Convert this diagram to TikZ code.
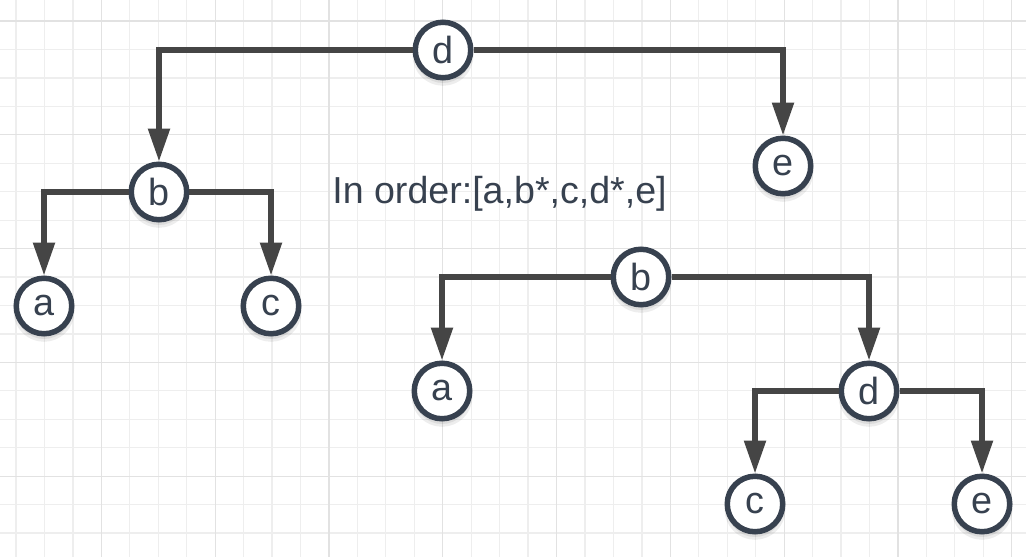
\documentclass[tikz,border=0pt]{standalone}
\usepackage{fontspec}
\setmainfont{Liberation Sans}
\usetikzlibrary{arrows.meta}
\definecolor{edgegray}{RGB}{69, 69, 69}
\definecolor{slate}{RGB}{55, 65, 79}
\definecolor{gridminor}{RGB}{238, 238, 238}
\definecolor{gridmajor}{RGB}{226, 226, 226}

\begin{document}
\begin{tikzpicture}[x=0.02cm, y=-0.02cm,
    vert/.style={circle, draw=slate, line width=0.11cm, fill=white,
                 minimum size=1.11cm, inner sep=0pt, text=slate,
                 font=\fontsize{21.5}{22}\selectfont,
                 preaction={draw=black, line width=0.11cm, fill=black, opacity=0.07,
                            transform canvas={yshift=-3pt}}},
    link/.style={draw=edgegray, line width=0.11cm,
                 -{Triangle[length=0.66cm, width=0.42cm]}}]

    % Background grid
    \useasboundingbox (0,0) rectangle (1026,557);
    \fill[white] (0,0) rectangle (1026,557);
    \foreach \i in {0,...,35}
        \draw[gridminor, line width=0.025cm] ({16+28.45*\i},0) -- ({16+28.45*\i},557);
    \foreach \i in {0,...,18}
        \draw[gridminor, line width=0.025cm] (0,{21+28.45*\i}) -- (1026,{21+28.45*\i});
    \foreach \i in {3,7,...,35}
        \draw[gridmajor, line width=0.025cm] ({16+28.45*\i},0) -- ({16+28.45*\i},557);
    \foreach \i in {0,4,...,16}
        \draw[gridmajor, line width=0.025cm] (0,{21+28.45*\i}) -- (1026,{21+28.45*\i});

    % First tree
    \node[vert] (d1) at (443, 50) {d};
    \node[vert] (b1) at (159, 192) {b};
    \node[vert] (e1) at (783, 166) {e};
    \node[vert] (a1) at (44, 306) {a};
    \node[vert] (c1) at (271, 306) {c};

    % Second tree
    \node[vert] (b2) at (641, 277) {b};
    \node[vert] (a2) at (442, 391) {a};
    \node[vert] (d2) at (869, 391) {d};
    \node[vert] (c2) at (755, 504) {c};
    \node[vert] (e2) at (982, 504) {e};

    \node[anchor=base, text=slate, font=\fontsize{21.4}{24}\selectfont]
        (order) at (499.5, 203) {In order:[a,b*,c,d*,e]};

    % Arrows
    \draw[link] (d1) -| (b1);
    \draw[link] (d1) -| (e1);
    \draw[link] (b1) -| (a1);
    \draw[link] (b1) -| (c1);
    \draw[link] (b2) -| (a2);
    \draw[link] (b2) -| (d2);
    \draw[link] (d2) -| (c2);
    \draw[link] (d2) -| (e2);
\end{tikzpicture}
\end{document}
